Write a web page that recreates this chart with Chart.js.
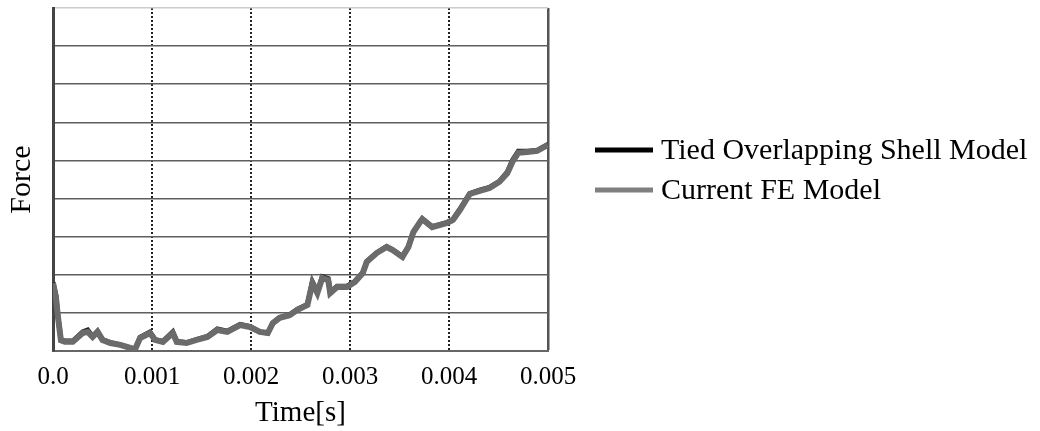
<!DOCTYPE html>
<html>
<head>
<meta charset="utf-8">
<title>Force vs Time</title>
<script src="https://cdn.jsdelivr.net/npm/chart.js@4"></script>
<style>
  html, body { margin: 0; padding: 0; background: #fff; }
  #chart { display: block; }
</style>
</head>
<body>
<canvas id="chart" width="1040" height="431"></canvas>
<script>
// time in seconds
const times = [0, 0.00003, 0.00005, 0.00008, 0.00012, 0.0002, 0.0003, 0.00035, 0.0004, 0.00045,
  0.0005, 0.00058, 0.00068, 0.00078, 0.00083, 0.00088, 0.00098, 0.00103, 0.00111, 0.00121,
  0.00125, 0.00135, 0.00145, 0.00156, 0.00166, 0.00176, 0.00189, 0.00199, 0.00209, 0.00217,
  0.00222, 0.00229, 0.00239, 0.00247, 0.00257, 0.00262, 0.00267, 0.00272, 0.00278, 0.0028,
  0.00287, 0.00297, 0.00305, 0.00313, 0.00317, 0.00327, 0.00337, 0.00343, 0.00353, 0.00359,
  0.00364, 0.00371, 0.00373, 0.00383, 0.00398, 0.00404, 0.00411, 0.00421, 0.00431, 0.00441,
  0.00451, 0.00459, 0.00464, 0.0047, 0.00479, 0.00489, 0.005];

const tiedForce = [1.8, 1.45, 0.9, 0.3, 0.26, 0.26, 0.5, 0.55, 0.38, 0.52,
  0.3, 0.22, 0.16, 0.08, 0.05, 0.36, 0.5, 0.3, 0.25, 0.5,
  0.25, 0.22, 0.3, 0.38, 0.58, 0.52, 0.7, 0.64, 0.5, 0.47,
  0.74, 0.88, 0.95, 1.1, 1.22, 1.82, 1.56, 1.95, 1.9, 1.55,
  1.7, 1.7, 1.83, 2.06, 2.35, 2.58, 2.74, 2.66, 2.48, 2.74,
  3.12, 3.4, 3.47, 3.26, 3.37, 3.45, 3.72, 4.13, 4.22, 4.29,
  4.45, 4.7, 5.0, 5.24, 5.24, 5.26, 5.42];

const currentForce = [1.78, 1.4, 0.9, 0.28, 0.24, 0.24, 0.47, 0.5, 0.37, 0.5,
  0.29, 0.21, 0.16, 0.08, 0.05, 0.34, 0.47, 0.29, 0.24, 0.47,
  0.24, 0.21, 0.29, 0.37, 0.55, 0.5, 0.68, 0.63, 0.5, 0.47,
  0.73, 0.87, 0.94, 1.08, 1.21, 1.78, 1.52, 1.92, 1.86, 1.52,
  1.68, 1.68, 1.81, 2.05, 2.34, 2.57, 2.73, 2.65, 2.47, 2.73,
  3.12, 3.39, 3.46, 3.25, 3.36, 3.44, 3.7, 4.12, 4.2, 4.28,
  4.44, 4.67, 4.96, 5.2, 5.22, 5.25, 5.41];

const tickValues = [0, 0.001, 0.002, 0.003, 0.004, 0.005];
const tickLabels = ["0.0", "0.001", "0.002", "0.003", "0.004", "0.005"];
const seriesNames = ["Tied Overlapping Shell Model", "Current FE Model"];

const serif = '"Liberation Serif", "Times New Roman", serif';

function toPoints(values) {
  return times.map((t, i) => ({ x: t, y: values[i] }));
}

// legend drawn by hand, it sits off to the right of the plot
const sideLegend = {
  id: "sideLegend",
  afterDraw(chart) {
    const c = chart.ctx;
    const rows = [159, 199];
    c.save();
    c.font = "30px " + serif;
    c.textBaseline = "alphabetic";
    c.textAlign = "left";
    chart.data.datasets.forEach((ds, i) => {
      const base = rows[i];
      c.strokeStyle = ds.legendColor;
      c.lineWidth = 5;
      c.beginPath();
      c.moveTo(595, base - 9);
      c.lineTo(653, base - 9);
      c.stroke();
      c.fillStyle = "#000";
      c.fillText(ds.label, 661, base);
    });
    c.restore();
  }
};

new Chart(document.getElementById("chart"), {
  type: "line",
  data: {
    datasets: [
      {
        label: seriesNames[0],
        data: toPoints(tiedForce),
        borderColor: "#222",
        legendColor: "#000",
        borderWidth: 5,
        pointRadius: 0,
        tension: 0,
        order: 1
      },
      {
        label: seriesNames[1],
        data: toPoints(currentForce),
        borderColor: "#6b6b6b",
        legendColor: "#808080",
        borderWidth: 6,
        pointRadius: 0,
        tension: 0,
        order: 0
      }
    ]
  },
  options: {
    responsive: false,
    animation: false,
    layout: {
      padding: { top: 8, right: 492, left: 0, bottom: 0 }
    },
    plugins: {
      legend: { display: false },
      tooltip: { enabled: false }
    },
    scales: {
      x: {
        type: "linear",
        min: 0,
        max: 0.005,
        afterBuildTicks: (scale) => {
          scale.ticks = tickValues.map((v) => ({ value: v }));
        },
        afterFit: (scale) => {
          scale.height = 80;
        },
        ticks: {
          autoSkip: false,
          maxRotation: 0,
          padding: 11,
          color: "#000",
          font: { family: serif, size: 25 },
          callback: (value, index) => tickLabels[index]
        },
        grid: {
          drawTicks: false,
          color: (ctx) => {
            if (!ctx.tick) return "#222";
            if (ctx.tick.value === 0) return "rgba(0,0,0,0)";
            if (ctx.tick.value === 0.005) return "#555";
            return "#222";
          },
          lineWidth: (ctx) => (ctx.tick && ctx.tick.value === 0.005 ? 2.5 : 2)
        },
        border: {
          display: true,
          color: "#666",
          width: 2,
          dash: (ctx) => {
            if (!ctx.tick || ctx.tick.value === 0.005) return [];
            return [2, 2];
          }
        },
        title: {
          display: true,
          text: "Time[s]",
          color: "#000",
          font: { family: serif, size: 29 },
          padding: { top: 0, bottom: 0 }
        }
      },
      y: {
        min: 0,
        max: 9,
        afterFit: (scale) => {
          scale.width = 53;
        },
        ticks: {
          display: false,
          stepSize: 1
        },
        grid: {
          drawTicks: false,
          color: (ctx) => (ctx.tick && ctx.tick.value === 9 ? "#cccccc" : "#5e5e5e"),
          lineWidth: 1.5
        },
        border: {
          display: true,
          color: "#444",
          width: 3
        },
        title: {
          display: true,
          text: "Force",
          color: "#000",
          font: { family: serif, size: 30 },
          padding: { top: 4, bottom: 0 }
        }
      }
    }
  },
  plugins: [sideLegend]
});
</script>
</body>
</html>
